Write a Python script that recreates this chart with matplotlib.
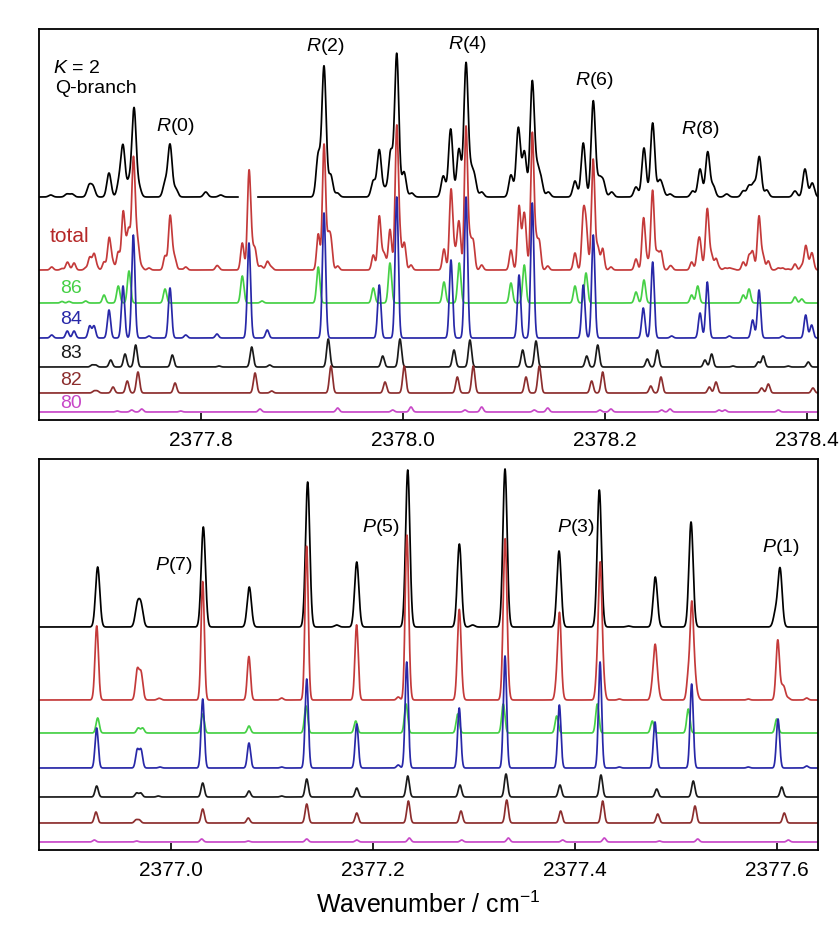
import numpy as np
import matplotlib
matplotlib.use("Agg")
import matplotlib.pyplot as plt

plt.rcParams['font.family'] = ['Liberation Sans', 'DejaVu Sans']
plt.rcParams['mathtext.fontset'] = 'custom'
plt.rcParams['mathtext.rm'] = 'Liberation Sans'
plt.rcParams['mathtext.it'] = 'Liberation Sans:italic'

# ---- R-branch window (upper panel): line centres / cm-1 and peak heights ----
r_exp_pos = [2377.6512, 2377.6673, 2377.6723, 2377.6891, 2377.6931, 2377.7089, 2377.7188, 2377.7228,
             2377.7287, 2377.7337, 2377.7386, 2377.7644, 2377.7693, 2377.7750, 2377.8047, 2377.8195,
             2377.9161, 2377.9218, 2377.9284, 2377.9350, 2377.9706, 2377.9765, 2377.9822, 2377.9878,
             2377.9938, 2378.0010, 2378.0086,
             2378.0399, 2378.0472, 2378.0554, 2378.0624, 2378.0673, 2378.0708, 2378.0779,
             2378.1069, 2378.1142, 2378.1202, 2378.1280, 2378.1330, 2378.1366, 2378.1439,
             2378.1703, 2378.1785, 2378.1884, 2378.1943, 2378.1983, 2378.2066,
             2378.2307, 2378.2386, 2378.2472, 2378.2538, 2378.2569, 2378.2644,
             2378.2868, 2378.2941, 2378.3017, 2378.3072, 2378.3205,
             2378.3369, 2378.3426, 2378.3475, 2378.3528, 2378.3601,
             2378.3881, 2378.3980, 2378.4052]
r_exp_amp = [2, 3, 3, 11, 10, 24, 14, 50, 15, 88, 10, 14, 52, 8, 5, 2,
             42, 130, 22, 4, 16, 47, 8, 45, 143, 25, 4,
             21, 68, 48, 133, 22, 18, 5,
             22, 69, 45, 115, 25, 16, 5,
             16, 54, 96, 17, 15, 5,
             10, 49, 74, 14, 8, 3,
             6, 28, 45, 11, 3,
             6, 11, 13, 40, 7,
             6, 28, 14]
r_gap = (2377.8366, 2377.8564)   # no laser data here

r84_pos = [2377.6522, 2377.6676, 2377.6743, 2377.6898, 2377.6941, 2377.7089, 2377.7228, 2377.7330,
           2377.7485, 2377.7693, 2377.7849, 2377.8158, 2377.8475, 2377.8656, 2377.9218, 2377.9765,
           2377.9938, 2378.0475, 2378.0624, 2378.1149, 2378.1280, 2378.1785, 2378.1884, 2378.2379,
           2378.2472, 2378.2660, 2378.2941, 2378.3013, 2378.3231, 2378.3462, 2378.3525, 2378.3759,
           2378.3987, 2378.4046]
r84_amp = [3, 7, 7, 12, 12, 28, 52, 103, 2, 50, 3, 4, 95, 8, 125, 53,
           141, 78, 141, 63, 135, 53, 103, 30, 76, 2, 25, 56, 2, 18, 48, 2, 23, 13]

r86_pos = [2377.6624, 2377.6693, 2377.6858, 2377.7040, 2377.7181, 2377.7287, 2377.7644, 2377.8409,
           2377.8604, 2377.9161, 2377.9706, 2377.9871, 2378.0406, 2378.0557, 2378.1069, 2378.1201,
           2378.1703, 2378.1812, 2378.2307, 2378.2386, 2378.2858, 2378.2918, 2378.3369, 2378.3426,
           2378.3881, 2378.3948]
r86_amp = [1.5, 1.5, 2, 8, 17, 32, 14, 27, 2, 36, 15, 40, 21, 40, 20, 38,
           17, 30, 11, 23, 8, 17, 8, 14, 6, 4]

r83_pos = [2377.6921, 2377.6957, 2377.7106, 2377.7248, 2377.7353, 2377.7716, 2377.8178, 2377.8502,
           2377.8680, 2377.9260, 2377.9799, 2377.9970, 2378.0505, 2378.0663, 2378.1185, 2378.1317,
           2378.1819, 2378.1928, 2378.2419, 2378.2518, 2378.2990, 2378.3056, 2378.3267, 2378.3518,
           2378.3567, 2378.3812, 2378.4013]
r83_amp = [2, 2, 7, 13, 22, 12, 1, 20, 2, 28, 11, 28, 17, 27, 17, 26,
           11, 22, 8, 17, 7, 13, 1, 5, 11, 1, 5]

r82_pos = [2377.6941, 2377.6973, 2377.7129, 2377.7270, 2377.7376, 2377.7743, 2377.8535, 2377.8700,
           2377.9287, 2377.9822, 2378.0013, 2378.0538, 2378.0696, 2378.1218, 2378.1350, 2378.1868,
           2378.1977, 2378.2453, 2378.2554, 2378.3033, 2378.3099, 2378.3551, 2378.3617, 2378.4059]
r82_amp = [2, 2, 6, 12, 21, 10, 20, 2, 27, 11, 27, 16, 27, 16, 27, 12,
           21, 7, 16, 6, 11, 5, 9, 5]

r80_pos = [2377.7171, 2377.7314, 2377.7413, 2377.7799, 2377.8584, 2377.9353, 2377.9898, 2378.0079,
           2378.0614, 2378.0779, 2378.1300, 2378.1433, 2378.1950, 2378.2059, 2378.2561, 2378.2644,
           2378.3129, 2378.3188, 2378.3716]
r80_amp = [1, 2, 3, 1, 3, 4, 2, 5, 2, 5, 2, 4, 2, 3, 2, 3, 2, 2, 2]

# ---- P-branch window (lower panel) ----
p_exp_pos = [2376.9274, 2376.9666, 2376.9703, 2377.0320, 2377.0775, 2377.1353, 2377.1640, 2377.1839,
             2377.2344, 2377.2855, 2377.2987, 2377.3307, 2377.3842, 2377.4241, 2377.4528, 2377.4795,
             2377.5149, 2377.5985, 2377.6030]
p_exp_amp = [60, 21, 21, 100, 40, 145, 2, 65, 157, 83, 2, 158, 76, 137, 1, 50, 105, 14, 58]

p84_pos = [2376.9264, 2376.9666, 2376.9703, 2376.9891, 2377.0314, 2377.0772, 2377.1096, 2377.1344,
           2377.1839, 2377.2250, 2377.2334, 2377.2854, 2377.3307, 2377.3845, 2377.4248, 2377.4439,
           2377.4792, 2377.5155, 2377.5716, 2377.6010, 2377.6294]
p84_amp = [40, 18, 18, 1, 69, 25, 1, 89, 44, 3, 106, 60, 112, 63, 106, 1, 46, 84, 1, 49, 2]

p86_pos = [2376.9274, 2376.9676, 2376.9719, 2377.0314, 2377.0772, 2377.1337, 2377.1829, 2377.2327,
           2377.2839, 2377.3290, 2377.3819, 2377.4221, 2377.4765, 2377.5122, 2377.5997]
p86_amp = [15, 5, 5, 19, 7, 27, 12, 29, 19, 29, 17, 29, 12, 24, 14]

p83_pos = [2376.9264, 2376.9660, 2376.9700, 2376.9874, 2377.0314, 2377.0772, 2377.1096, 2377.1344,
           2377.1839, 2377.2344, 2377.2861, 2377.3317, 2377.3851, 2377.4257, 2377.4809, 2377.5171,
           2377.6047]
p83_amp = [11, 4, 4, 1, 14, 6, 1, 18, 9, 21, 12, 23, 12, 22, 8, 16, 10]

p82_pos = [2376.9257, 2376.9653, 2376.9686, 2377.0314, 2377.0765, 2377.1344, 2377.1839, 2377.2350,
           2377.2871, 2377.3324, 2377.3858, 2377.4274, 2377.4819, 2377.5188, 2377.6072]
p82_amp = [11, 3, 3, 14, 5, 19, 10, 22, 12, 23, 12, 22, 9, 17, 10]

p80_pos = [2376.9241, 2376.9660, 2377.0304, 2377.0765, 2377.1344, 2377.1839, 2377.2359, 2377.2878,
           2377.3340, 2377.3878, 2377.4290, 2377.4835, 2377.5215, 2377.6112]
p80_amp = [2, 1, 3, 1, 3, 2, 4, 2, 4, 2, 4, 1, 3, 2]

isotopes = ["86", "84", "83", "82", "80"]

# vertical stacking of the traces and colours
offset = {"exp": 223, "total": 150, "86": 117, "84": 82, "83": 53, "82": 27, "80": 8}
color = {"exp": "black", "total": "#c43a3a", "86": "#46d046", "84": "#2828a8",
         "83": "#1a1a1a", "82": "#8c2e2e", "80": "#c848c8"}
SIG_SIM = 0.0016
SIG_EXP = 0.0021
LW = 1.25


def lines(x, pos, amp, sig):
    pos = np.asarray(pos)[:, None]
    amp = np.asarray(amp, dtype=float)[:, None]
    return (amp * np.exp(-0.5 * ((x[None, :] - pos) / sig) ** 2)).sum(axis=0)


def panel(ax, xlim, exp, sims, gap=None):
    x = np.linspace(xlim[0], xlim[1], 7000)
    y_exp = lines(x, exp[0], exp[1], SIG_EXP)
    if gap is not None:
        y_exp[(x > gap[0]) & (x < gap[1])] = np.nan
    comps = {k: lines(x, p, a, SIG_SIM) for k, (p, a) in sims.items()}
    total = sum(comps.values())
    ax.plot(x, y_exp + offset["exp"], color=color["exp"], lw=LW)
    ax.plot(x, total + offset["total"], color=color["total"], lw=LW)
    for k in isotopes:
        ax.plot(x, comps[k] + offset[k], color=color[k], lw=LW)
    ax.set_xlim(*xlim)
    ax.set_ylim(0, 391)
    ax.set_yticks([])
    ax.tick_params(axis="x", direction="in", length=5, width=1.2, labelsize=15, pad=8)
    for s in ax.spines.values():
        s.set_linewidth(1.3)


fig = plt.figure(figsize=(8.4, 9.27), dpi=100)
ax1 = fig.add_axes([39 / 840, 1 - 420 / 927, 779 / 840, 391 / 927])
ax2 = fig.add_axes([39 / 840, 1 - 850 / 927, 779 / 840, 391 / 927])

panel(ax1, (2377.6396, 2378.4109), (r_exp_pos, r_exp_amp),
      {"86": (r86_pos, r86_amp), "84": (r84_pos, r84_amp), "83": (r83_pos, r83_amp),
       "82": (r82_pos, r82_amp), "80": (r80_pos, r80_amp)}, gap=r_gap)
ax1.set_xticks([2377.8, 2378.0, 2378.2, 2378.4])
ax1.set_xticklabels(["2377.8", "2378.0", "2378.2", "2378.4"])

panel(ax2, (2376.8693, 2377.6406), (p_exp_pos, p_exp_amp),
      {"86": (p86_pos, p86_amp), "84": (p84_pos, p84_amp), "83": (p83_pos, p83_amp),
       "82": (p82_pos, p82_amp), "80": (p80_pos, p80_amp)})
ax2.set_xticks([2377.0, 2377.2, 2377.4, 2377.6])
ax2.set_xticklabels(["2377.0", "2377.2", "2377.4", "2377.6"])
ax2.set_xlabel("Wavenumber / cm$^{-1}$", fontsize=18, labelpad=8)

# annotations, upper panel
ax1.text(2377.6535, 351.5, "$K$ = 2", fontsize=14, va="center", ha="left")
ax1.text(2377.6554, 331, "Q-branch", fontsize=14, va="center", ha="left")
for lab, xx, yy in [("$R$(0)", 2377.7743, 293), ("$R$(2)", 2377.9228, 373), ("$R$(4)", 2378.0634, 375),
                    ("$R$(6)", 2378.1891, 339.5), ("$R$(8)", 2378.2945, 290)]:
    ax1.text(xx, yy, lab, fontsize=14, ha="center", va="center")
ax1.text(2377.6505, 183, "total", fontsize=15, color="#b52828", ha="left", va="center")
for k, yy in zip(isotopes, [131, 100.5, 66.5, 39, 16.5]):
    ax1.text(2377.6604, yy, k, fontsize=14, color=color[k], ha="left", va="center")

# annotations, lower panel
for lab, xx, yy in [("$P$(7)", 2377.0023, 285), ("$P$(5)", 2377.2074, 322),
                    ("$P$(3)", 2377.401, 322), ("$P$(1)", 2377.6038, 303)]:
    ax2.text(xx, yy, lab, fontsize=14, ha="center", va="center")

fig.savefig("out.png", dpi=100)
